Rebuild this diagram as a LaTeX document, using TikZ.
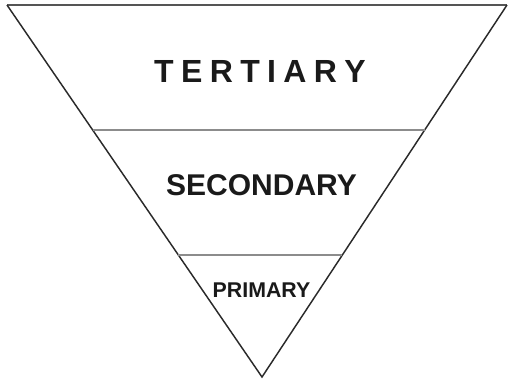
\documentclass[tikz,border=0pt]{standalone}
\usepackage{fontspec}
\setmainfont{Liberation Sans}
\usetikzlibrary{calc}
\definecolor{edge}{HTML}{2A2A2A}
\definecolor{divider}{HTML}{8C8C8C}
\definecolor{tiertext}{HTML}{1A1A1A}
\newcommand\tgap{\kern0.23em}

\begin{document}
\begin{tikzpicture}[x=0.75pt, y=-0.75pt]
    \useasboundingbox (0, 0) rectangle (508, 380);

    % Corners of the triangle
    \coordinate (topleft) at (7, 5);
    \coordinate (topright) at (507, 5);
    \coordinate (apex) at (262, 377);

    % Outline
    \draw[edge!80, line width=1.4pt] (topleft) -- (topright);
    \draw[edge, line width=1.1pt, line join=miter] (topright) -- (apex) -- (topleft);

    % Dividers
    \coordinate (upl) at ($(topleft)!0.336!(apex)$);
    \coordinate (upr) at ($(topright)!0.336!(apex)$);
    \coordinate (lowl) at ($(topleft)!0.672!(apex)$);
    \coordinate (lowr) at ($(topright)!0.672!(apex)$);
    \draw[divider, line width=0.8pt] (upl) -- (upr);
    \draw[divider, line width=0.8pt] (lowl) -- (lowr);

    % Tier labels
    \node[font=\bfseries\fontsize{24}{28}\selectfont, tiertext] (tertiary) at (260, 71)
        {T\tgap E\tgap R\tgap T\tgap I\tgap A\tgap R\tgap Y};
    \node[font=\bfseries\fontsize{22.5}{26}\selectfont, tiertext] (secondary) at (261.5, 185.5) {SECONDARY};
    \node[font=\bfseries\fontsize{16}{19}\selectfont, tiertext] (primary) at (261.5, 290.5) {PRIMARY};
\end{tikzpicture}
\end{document}
